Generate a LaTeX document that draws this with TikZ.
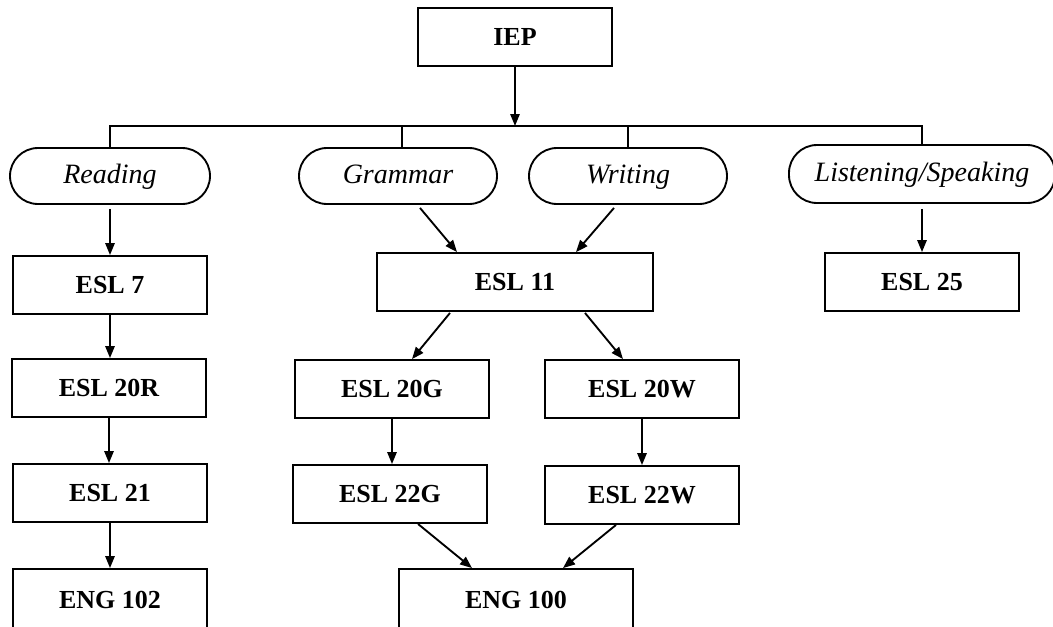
\documentclass[tikz,border=0pt]{standalone}
\usepackage{fontspec}
\setmainfont{Liberation Serif}
\usetikzlibrary{arrows.meta,calc}
\begin{document}
\begin{tikzpicture}[x=0.75pt,y=-0.75pt,
  line width=1.4pt,
  box/.style={draw,rectangle,inner sep=0pt,minimum width=145.5pt,minimum height=43.5pt,text height=12.9pt,text depth=0pt,font=\fontsize{19.5}{22}\selectfont\bfseries},
  oval/.style={draw,rectangle,rounded corners=21pt,inner sep=0pt,minimum width=148.5pt,minimum height=42pt,text height=13.9pt,text depth=3pt,font=\fontsize{21}{24}\selectfont\itshape},
  arr/.style={-{Triangle[length=9pt,width=7pt]}},
  ]
\useasboundingbox (0,0) rectangle (1053,626);
\clip (0,0) rectangle (1053,626);
% nodes
\node[box] (iep) at (515,37) {IEP};
\node[oval,minimum width=150pt] (rd) at (110,176) {Reading};
\node[oval] (gr) at (398,176) {Grammar};
\node[oval] (wr) at (628,176) {Writing};
\node[oval,minimum width=199.5pt,minimum height=43.5pt] (ls) at (922,174) {Listening/Speaking};
\node[box] (e7) at (110,285) {ESL 7};
\node[box,minimum width=207pt] (e11) at (515,282) {ESL 11};
\node[box] (e25) at (922,282) {ESL 25};
\node[box] (e20r) at (109,388) {ESL 20R};
\node[box] (e20g) at (392,389) {ESL 20G};
\node[box] (e20w) at (642,389) {ESL 20W};
\node[box] (e21) at (110,493) {ESL 21};
\node[box] (e22g) at (390,494) {ESL 22G};
\node[box] (e22w) at (642,495) {ESL 22W};
\node[box,minimum height=46.5pt] (eng102) at (110,600) {ENG 102};
\node[box,minimum width=175.5pt,minimum height=46.5pt] (eng100) at (516,600) {ENG 100};
% bus
\coordinate (bus) at (515,126);
\draw[arr] (iep.south) -- (iep.south |- bus);
\draw (rd.north) |- (bus) -| (ls.north);
\draw ($(gr.north)+(4,0)$) -- ($(gr.north |- bus)+(4,0)$);
\draw (wr.north) -- (wr.north |- bus);
% vertical arrows
\draw[arr] ($(rd.south)+(0,4)$) -- (rd.south |- e7.north);
\draw[arr] ($(ls.south)+(0,5)$) -- (ls.south |- e25.north);
\draw[arr] (e7.south) -- (e7.south |- e20r.north);
\draw[arr] (e20r.south) -- (e20r.south |- e21.north);
\draw[arr] (e21.south) -- (e21.south |- eng102.north);
\draw[arr] (e20g.south) -- (e20g.south |- e22g.north);
\draw[arr] (e20w.south) -- (e20w.south |- e22w.north);
% diagonal arrows
\draw[arr] ($(gr.south)+(22,3)$) -- ($(e11.north)+(-58,0)$);
\draw[arr] ($(wr.south)+(-14,3)$) -- ($(e11.north)+(61,0)$);
\draw[arr] ($(e11.south)+(-65,1)$) -- ($(e20g.north)+(20,0)$);
\draw[arr] ($(e11.south)+(70,1)$) -- ($(e20w.north)+(-19,0)$);
\draw[arr] ($(e22g.south)+(28,0)$) -- ($(eng100.north)+(-44,0)$);
\draw[arr] ($(e22w.south)+(-26,0)$) -- ($(eng100.north)+(47,0)$);
\end{tikzpicture}
\end{document}
